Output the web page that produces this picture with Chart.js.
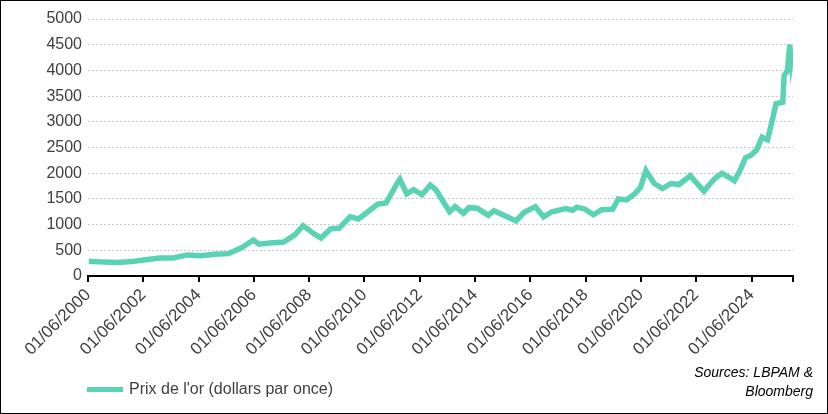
<!DOCTYPE html>
<html>
<head>
<meta charset="utf-8">
<script src="https://cdn.jsdelivr.net/npm/chart.js@4"></script>
<style>
  body { margin: 0; }
  #wrap { position: relative; width: 828px; height: 414px; box-sizing: border-box; border: 1px solid #000; background: #fff; }
  #legend { position: absolute; left: 86px; top: 379px; font: 16px "Liberation Sans", Arial, sans-serif; color: #404040; }
  #legend span { display: inline-block; width: 36px; height: 5px; background: #5ad3b4; vertical-align: middle; margin-right: 6px; }
  #sources { position: absolute; right: 14px; top: 362px; font: italic 14px "Liberation Sans", Arial, sans-serif; color: #000; text-align: right; line-height: 19px; }
</style>
</head>
<body>
<div id="wrap">
  <canvas id="grafico" width="826" height="412"></canvas>
  <div id="legend"><span></span>Prix de l'or (dollars par once)</div>
  <div id="sources">Sources: LBPAM &amp;<br>Bloomberg</div>
</div>
<script>
const annees = [2000.45, 2001.0, 2001.5, 2002.0, 2002.5, 2003.0, 2003.5, 2004.0, 2004.5, 2005.0, 2005.5, 2006.0, 2006.4, 2006.6, 2007.0, 2007.5, 2007.9, 2008.2, 2008.6, 2008.85, 2009.2, 2009.5, 2009.9, 2010.2, 2010.5, 2010.9, 2011.2, 2011.6, 2011.7, 2011.95, 2012.2, 2012.5, 2012.8, 2013.0, 2013.3, 2013.5, 2013.7, 2014.0, 2014.2, 2014.5, 2014.9, 2015.1, 2015.5, 2015.9, 2016.2, 2016.6, 2016.9, 2017.2, 2017.7, 2017.95, 2018.1, 2018.4, 2018.7, 2019.0, 2019.4, 2019.6, 2019.9, 2020.2, 2020.4, 2020.6, 2020.9, 2021.2, 2021.5, 2021.8, 2022.2, 2022.4, 2022.7, 2022.9, 2023.1, 2023.35, 2023.6, 2023.8, 2024.0, 2024.2, 2024.4, 2024.6, 2024.8, 2025.0, 2025.2, 2025.3, 2025.55, 2025.6, 2025.72, 2025.8, 2025.85, 2025.9];
const prix = [285, 270, 265, 280, 315, 350, 350, 410, 395, 425, 435, 560, 700, 620, 640, 660, 800, 980, 820, 740, 920, 930, 1150, 1110, 1230, 1400, 1420, 1800, 1880, 1600, 1680, 1580, 1770, 1680, 1420, 1250, 1350, 1220, 1330, 1320, 1180, 1270, 1170, 1070, 1240, 1350, 1150, 1250, 1310, 1280, 1340, 1300, 1190, 1290, 1300, 1500, 1480, 1600, 1720, 2050, 1800, 1700, 1800, 1780, 1950, 1830, 1650, 1780, 1900, 2000, 1920, 1850, 2050, 2300, 2350, 2450, 2700, 2650, 3100, 3350, 3380, 3900, 4000, 4500, 4200, 4400];
const debut = 2000.42;
const ticksY = [0, 500, 1000, 1500, 2000, 2500, 3000, 3500, 4000, 4500, 5000];

const points = annees.map((a, i) => ({ x: a - debut, y: prix[i] }));

new Chart(document.getElementById('grafico'), {
  type: 'line',
  data: {
    datasets: [{
      label: "Prix de l'or (dollars par once)",
      data: points,
      borderColor: '#5ad3b4',
      borderWidth: 5.5,
      pointRadius: 0,
      tension: 0
    }]
  },
  options: {
    responsive: false,
    animation: false,
    layout: { padding: { top: 18, right: 34, left: 4, bottom: 0 } },
    plugins: { legend: { display: false }, tooltip: { enabled: false } },
    scales: {
      x: {
        type: 'linear', min: 0, max: 25.5,
        ticks: {
          stepSize: 2, maxRotation: 45, minRotation: 45, autoSkip: false,
          color: '#404040', font: { family: 'Liberation Sans', size: 17 },
          callback: v => (Number.isInteger(v) && v % 2 === 0) ? '01/06/' + (2000 + v) : ''
        },
        grid: { display: true, drawOnChartArea: false, drawTicks: true, tickLength: 6, tickColor: '#000', lineWidth: 2 },
        border: { color: '#000', width: 2 },
        afterFit: s => { s.height = 137; }
      },
      y: {
        min: 0, max: 5000,
        afterBuildTicks: s => { s.ticks = ticksY.map(v => ({ value: v })); },
        ticks: { color: '#404040', font: { family: 'Liberation Sans', size: 16 }, padding: 6, callback: v => String(v) },
        grid: { color: '#c8c8c8', drawTicks: false },
        border: { display: false, dash: [2, 2] },
        afterFit: s => { s.width = 83; }
      }
    }
  }
});
</script>
</body>
</html>
